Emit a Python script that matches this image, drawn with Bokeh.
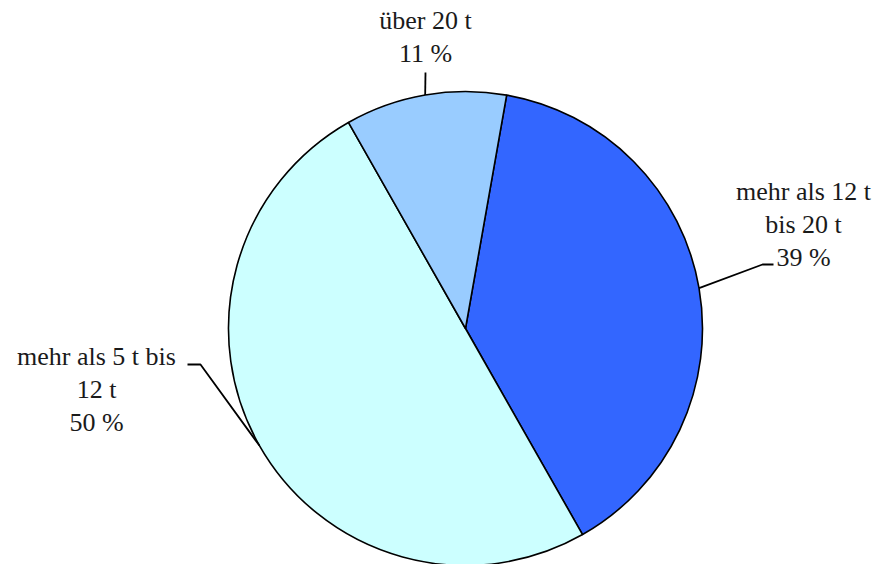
import math
from bokeh.plotting import figure
from bokeh.models import Range1d, ColumnDataSource
from bokeh.core.properties import value
from bokeh.embed import file_html
from bokeh.resources import INLINE

# ---- data (clockwise order from the first slice) ----
categories = ["mehr als 12 t bis 20 t", "mehr als 5 t bis 12 t", "über 20 t"]
shares = [39, 50, 11]
colors = ["#3366FF", "#CCFFFF", "#99CCFF"]
label_lines = [["mehr als 12 t", "bis 20 t", "39 %"],
               ["mehr als 5 t bis", "12 t", "50 %"],
               ["über 20 t", "11 %"]]

# ---- layout (page pixel coordinates, y downward -> data y = -page y) ----
W, H = 876, 564
cx, cy, R = 465, 328, 237
start_offset = 10.0  # degrees clockwise from 12 o'clock
FONT = "Liberation Serif"
FS = 26
PITCH = 33

# label anchor: (center x, first baseline y), elbow point, end of horizontal leader
label_pos = [(803, 191), (96, 356), (425, 20)]
elbows = [[(762, 264), (773, 264)], [(200, 364), (187, 364)], [(425, 72)]]

p = figure(width=W, height=H, output_backend="svg", toolbar_location=None,
           x_range=Range1d(0, W), y_range=Range1d(-H, 0),
           min_border=0, match_aspect=False)
p.axis.visible = False
p.grid.visible = False
p.outline_line_color = None
p.background_fill_color = "white"
p.border_fill_color = "white"

total = sum(shares)
starts, ends, mids = [], [], []
acc = start_offset
for s in shares:
    a0 = acc
    a1 = acc + 360.0 * s / total
    starts.append(math.radians(90 - a0))
    ends.append(math.radians(90 - a1))
    mids.append((a0 + a1) / 2)
    acc = a1

src = ColumnDataSource(dict(start=starts, end=ends, color=colors, cat=categories))
p.wedge(x=cx, y=-cy, radius=R, start_angle="start", end_angle="end",
        direction="clock", fill_color="color", line_color="black",
        line_width=1.6, source=src)

for i, m in enumerate(mids):
    ex = cx + R * math.sin(math.radians(m))
    ey = cy - R * math.cos(math.radians(m))
    xs = [ex] + [pt[0] for pt in elbows[i]]
    ys = [-ey] + [-pt[1] for pt in elbows[i]]
    p.line(xs, ys, line_color="black", line_width=1.8)
    lx, ly = label_pos[i]
    for j, t in enumerate(label_lines[i]):
        p.text(x=[lx], y=[-(ly + j * PITCH)], text=[t], text_align="center",
               text_baseline="alphabetic", text_font=value(FONT),
               text_font_size=f"{FS}px", text_color="#1a1a1a")

open("out.html", "w").write(file_html(p, INLINE))
